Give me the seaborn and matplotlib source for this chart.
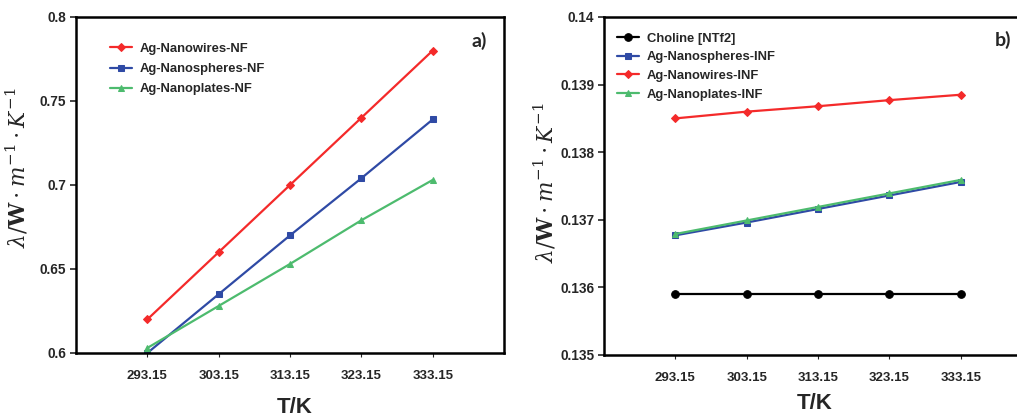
import numpy as np
import pandas as pd
import seaborn as sns
import matplotlib
matplotlib.use("Agg")
import matplotlib.pyplot as plt

sns.set_style("white")
plt.rcParams['font.family'] = ['Liberation Sans', 'DejaVu Sans']
plt.rcParams['mathtext.fontset'] = 'dejavuserif'

# Temperatures (K)
temperature = [293.15, 303.15, 313.15, 323.15, 333.15]
temp_labels = ["293.15", "303.15", "313.15", "323.15", "333.15"]

# a) nanofluids, thermal conductivity (W m-1 K-1)
nf_nanowires = [0.620, 0.660, 0.700, 0.740, 0.780]
nf_nanospheres = [0.600, 0.635, 0.670, 0.704, 0.739]
nf_nanoplates = [0.603, 0.628, 0.653, 0.679, 0.703]

# b) ionanofluids, thermal conductivity (W m-1 K-1)
choline_ntf2 = [0.1359, 0.1359, 0.1359, 0.1359, 0.1359]
inf_nanospheres = [0.13677, 0.13696, 0.13716, 0.13736, 0.13756]
inf_nanowires = [0.13850, 0.13860, 0.13868, 0.13877, 0.13885]
inf_nanoplates = [0.13679, 0.13699, 0.13719, 0.13739, 0.13759]

ticks_a = [0.6, 0.65, 0.7, 0.75, 0.8]
ticklabels_a = ["0.6", "0.65", "0.7", "0.75", "0.8"]
ticks_b = [0.135, 0.136, 0.137, 0.138, 0.139, 0.14]
ticklabels_b = ["0.135", "0.136", "0.137", "0.138", "0.139", "0.14"]

RED = "#f42a2a"
BLUE = "#2f4aa5"
GREEN = "#4dbb6e"
BLACK = "#000000"

W, H = 1017, 417
fig = plt.figure(figsize=(W / 100, H / 100), dpi=100)
ax_a = fig.add_axes([76 / W, 1 - 353 / H, 428 / W, 336 / H])
ax_b = fig.add_axes([604 / W, 1 - 355 / H, 428 / W, 338 / H])

ylabel = r'$\lambda/\mathbf{W}\cdot m^{-1}\cdot K^{-1}$'


def draw_series(ax, values, color, marker, label, ms):
    sns.lineplot(x=temperature, y=values, ax=ax, color=color, marker=marker,
                 markersize=ms, markeredgecolor=color, linewidth=1.6,
                 label=label)


draw_series(ax_a, nf_nanowires, RED, "D", "Ag-Nanowires-NF", 4)
draw_series(ax_a, nf_nanospheres, BLUE, "s", "Ag-Nanospheres-NF", 4.5)
draw_series(ax_a, nf_nanoplates, GREEN, "^", "Ag-Nanoplates-NF", 5)

draw_series(ax_b, choline_ntf2, BLACK, "o", "Choline [NTf2]", 5.5)
draw_series(ax_b, inf_nanospheres, BLUE, "s", "Ag-Nanospheres-INF", 5)
draw_series(ax_b, inf_nanowires, RED, "D", "Ag-Nanowires-INF", 4)
draw_series(ax_b, inf_nanoplates, GREEN, "^", "Ag-Nanoplates-INF", 5)

panels = [
    # axes, ticks, labels, ylim, tag, tag pos, ylabel pos, xlabel pos,
    # legend anchor, label spacing
    (ax_a, ticks_a, ticklabels_a, (0.6, 0.8), "a)", (0.942, 0.93),
     (-0.107, 0.55), (0.51, -0.13), (0.079, 0.923), 0.62),
    (ax_b, ticks_b, ticklabels_b, (0.135, 0.14), "b)", (0.932, 0.932),
     (-0.107, 0.51), (0.493, -0.113), (0.030, 0.954), 0.5),
]

for (ax, ticks, tlabels, ylim, tag, tagpos, ylpos, xlpos,
     leganchor, lspace) in panels:
    ax.set_xlim(283.15, 343.15)
    ax.set_ylim(*ylim)
    ax.set_xticks(temperature)
    ax.set_xticklabels(temp_labels, fontsize=9.5, fontweight="bold")
    ax.set_yticks(ticks)
    ax.set_yticklabels(tlabels, fontsize=9.8, fontweight="bold")
    ax.tick_params(axis="y", direction="out", length=4, width=1.2, left=True,
                   pad=3)
    ax.tick_params(axis="x", direction="out", length=3, width=0.8,
                   bottom=True, pad=9)
    for side in ["left", "bottom", "top", "right"]:
        ax.spines[side].set_linewidth(1.8)
        ax.spines[side].set_color("black")
    ax.set_xlabel("T/K", fontsize=16, fontweight="bold")
    ax.xaxis.set_label_coords(*xlpos)
    ax.set_ylabel(ylabel, fontsize=15.5)
    ax.yaxis.set_label_coords(*ylpos)
    ax.legend(loc="upper left", frameon=False,
              prop={"weight": "bold", "size": 9.4},
              handlelength=1.7, handletextpad=0.6, labelspacing=lspace,
              borderaxespad=0, borderpad=0,
              bbox_to_anchor=leganchor, bbox_transform=ax.transAxes)
    ax.grid(False)
    ax.text(*tagpos, tag, transform=ax.transAxes, fontsize=14,
            fontweight="bold", ha="center", va="center", family="Lato")

fig.savefig("out.png", dpi=100)
